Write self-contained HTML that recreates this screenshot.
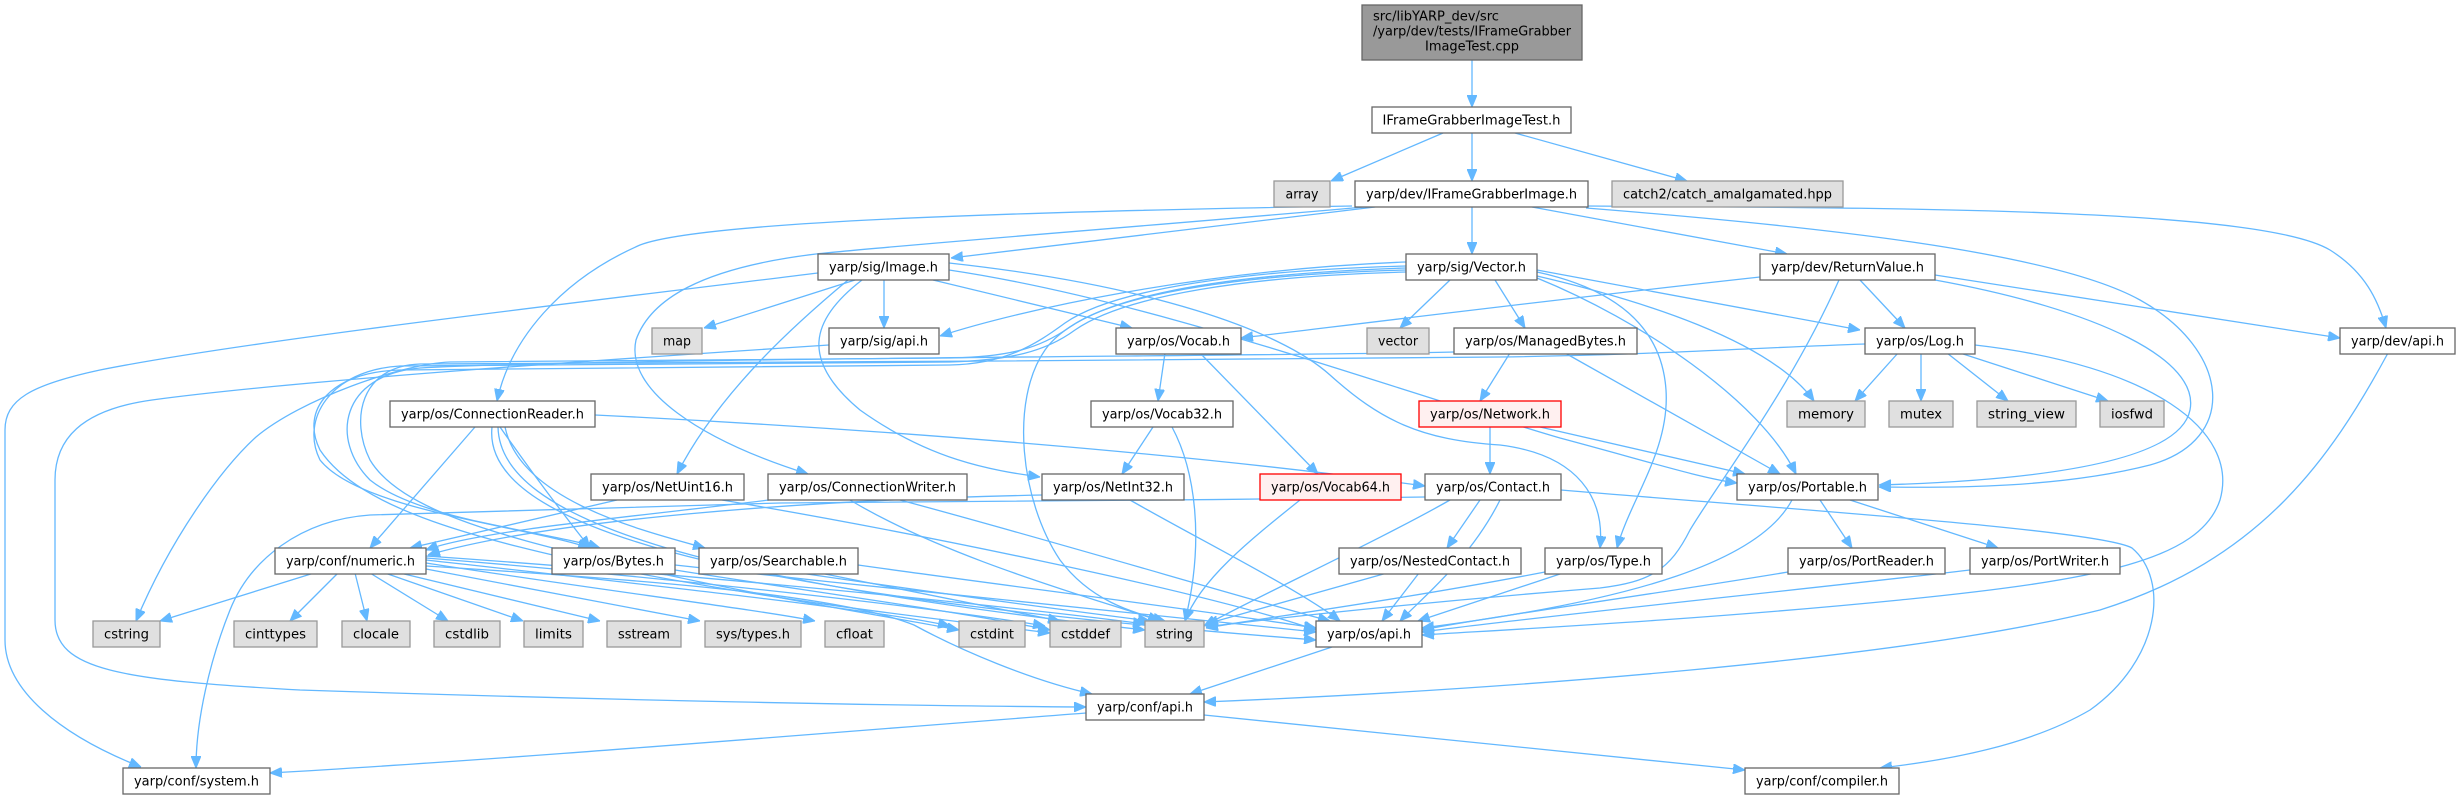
<!DOCTYPE html>
<html><head><meta charset="utf-8"><style>
html,body{margin:0;padding:0;background:#fff;}
svg{display:block;}
.e{fill:none;stroke:#63b8ff;stroke-width:1.3;marker-end:url(#a);}
.n rect{fill:#fff;stroke:#666;stroke-width:1.3;}
.g rect{fill:#e0e0e0;stroke:#999;stroke-width:1.3;}
.r rect{fill:#fff0f0;stroke:#ff0000;stroke-width:1.3;}
.t rect{fill:#999;stroke:#666;stroke-width:1.3;}
text{font-family:"DejaVu Sans","Liberation Sans",sans-serif;font-size:13px;fill:#000;}
</style></head><body>
<svg width="2460" height="799" viewBox="0 0 2460 799" xmlns="http://www.w3.org/2000/svg">
<defs><marker id="a" markerWidth="12" markerHeight="10" refX="12" refY="5" orient="auto" markerUnits="userSpaceOnUse"><path d="M0,0 L12,5 L0,10 z" fill="#63b8ff" stroke="#63b8ff" stroke-width="1"/></marker></defs>
<rect width="2460" height="799" fill="#fff"/>
<g>
<path class="e" d="M1472,60 L1472,107"/>
<path class="e" d="M1443,133 L1331,181"/>
<path class="e" d="M1472,133 L1472,181"/>
<path class="e" d="M1515,133 L1687,181"/>
<path class="e" d="M1375,207 L951,258"/>
<path class="e" d="M1352,206 C1000,212 700,222 640,245 C560,280 510,340 497,401"/>
<path class="e" d="M1365,207 C1100,230 900,245 816,254 C700,268 650,300 636,340 C625,390 700,440 808,474"/>
<path class="e" d="M1472,207 L1472,254"/>
<path class="e" d="M1532,207 L1787,254"/>
<path class="e" d="M1588,206 C1900,208 2260,208 2330,250 C2365,272 2378,300 2386,328"/>
<path class="e" d="M1586,208 C1800,225 2050,250 2140,300 C2230,350 2240,440 2150,465 C2060,488 1950,488 1879,487"/>
<path class="e" d="M1935,280 C2100,310 2200,360 2190,410 C2180,460 2050,480 1879,485"/>
<path class="e" d="M855,280 L704,328"/>
<path class="e" d="M884,280 L884,328"/>
<path class="e" d="M933,280 L1132,328"/>
<path class="e" d="M818,273 C600,300 250,340 100,370 C30,385 5,400 5,430 L5,640 C5,690 60,735 141,767"/>
<path class="e" d="M848,280 C800,320 720,390 677,474"/>
<path class="e" d="M862,280 C810,320 800,360 860,410 C930,460 990,470 1040,477"/>
<path class="e" d="M949,263 C1150,285 1280,330 1330,375 C1380,420 1420,440 1500,445 C1580,455 1605,500 1600,548"/>
<path class="e" d="M949,270 C1150,300 1380,385 1560,438 C1650,462 1700,478 1737,483"/>
<path class="e" d="M1450,280 L1400,328"/>
<path class="e" d="M1495,280 L1525,328"/>
<path class="e" d="M1406,262 C1200,270 1020,310 940,336"/>
<path class="e" d="M1537,270 L1860,330"/>
<path class="e" d="M1537,276 C1640,300 1770,340 1814,401"/>
<path class="e" d="M1537,278 C1640,320 1760,400 1796,474"/>
<path class="e" d="M1537,272 C1620,290 1662,330 1666,390 C1670,450 1630,500 1617,548"/>
<path class="e" d="M1406,268 C1200,275 1080,300 1045,350 C1010,400 1020,500 1060,560 C1090,600 1130,612 1165,621"/>
<path class="e" d="M1406,270 C1250,274 1120,292 1070,327 C1040,348 1010,357 950,358 L450,362 C400,364 300,400 256,437 C220,470 170,540 136,621"/>
<path class="e" d="M1406,272 C1250,276 1125,295 1075,330 C1045,352 1010,360 950,362 L400,366 C330,370 300,420 320,460 C360,510 520,525 590,548"/>
<path class="e" d="M1454,352 C1300,356 600,358 420,368 C340,375 330,440 370,480 C420,520 540,530 600,548"/>
<path class="e" d="M1865,344 C1750,348 1650,355 1500,357 L1000,361 L420,364 C360,366 350,420 370,460 C400,510 500,535 600,560 C750,595 880,615 959,630"/>
<path class="e" d="M1406,266 C1250,270 1115,288 1065,323 C1035,345 1005,364 950,365 L400,370 C330,372 300,410 320,450 C360,510 480,540 620,570 C800,605 950,620 1050,633"/>
<path class="e" d="M1165,353 L1158,401"/>
<path class="e" d="M1200,353 L1318,474"/>
<path class="e" d="M1153,427 L1122,474"/>
<path class="e" d="M1172,427 C1195,470 1205,540 1185,621"/>
<path class="e" d="M1300,500 C1250,540 1200,580 1185,621"/>
<path class="e" d="M1490,427 L1490,474"/>
<path class="e" d="M1540,427 L1745,474"/>
<path class="e" d="M1510,353 L1480,401"/>
<path class="e" d="M1565,353 L1780,474"/>
<path class="e" d="M1480,500 L1447,548"/>
<path class="e" d="M1450,500 C1380,540 1250,600 1204,626"/>
<path class="e" d="M1500,500 C1470,560 1420,600 1400,621"/>
<path class="e" d="M1425,497 C1200,500 900,503 780,503 L370,515 C300,520 250,560 230,610 C210,660 196,720 196,768"/>
<path class="e" d="M1561,490 C1800,510 2100,530 2132,548 C2170,580 2160,660 2090,710 C2030,745 1950,760 1880,768"/>
<path class="e" d="M475,427 L370,548"/>
<path class="e" d="M595,415 C900,430 1200,455 1425,486"/>
<path class="e" d="M500,427 C530,470 560,510 590,548"/>
<path class="e" d="M505,427 C520,500 640,530 705,548"/>
<path class="e" d="M498,427 C500,520 700,580 1145,630"/>
<path class="e" d="M492,427 C480,540 800,600 1316,640"/>
<path class="e" d="M617,500 L410,548"/>
<path class="e" d="M722,500 C900,530 1200,590 1316,630"/>
<path class="e" d="M769,500 C650,515 480,530 426,550"/>
<path class="e" d="M850,500 C950,560 1100,600 1160,621"/>
<path class="e" d="M900,500 C1050,540 1250,600 1330,621"/>
<path class="e" d="M1042,495 C800,500 550,520 428,555"/>
<path class="e" d="M1130,500 C1200,540 1300,590 1340,621"/>
<path class="e" d="M675,570 C800,590 950,610 1050,630"/>
<path class="e" d="M675,565 C900,590 1150,615 1316,632"/>
<path class="e" d="M800,573 C950,595 1080,612 1150,621"/>
<path class="e" d="M858,565 C1000,585 1200,610 1316,628"/>
<path class="e" d="M820,573 L1060,621"/>
<path class="e" d="M1387,573 L1206,624"/>
<path class="e" d="M1419,573 L1382,621"/>
<path class="e" d="M1545,572 C1400,600 1250,620 1206,628"/>
<path class="e" d="M1563,573 L1418,621"/>
<path class="e" d="M1820,500 L1852,548"/>
<path class="e" d="M1850,500 L1998,548"/>
<path class="e" d="M1792,500 C1760,560 1640,600 1422,628"/>
<path class="e" d="M1788,572 C1650,595 1500,615 1422,630"/>
<path class="e" d="M1970,570 C1800,590 1550,615 1422,632"/>
<path class="e" d="M1975,345 C2150,365 2240,430 2220,500 C2200,560 2100,580 1900,600 C1700,620 1500,630 1422,635"/>
<path class="e" d="M1839,280 C1790,390 1720,480 1690,530 C1670,570 1650,582 1600,588 C1450,600 1300,615 1206,627"/>
<path class="e" d="M1860,280 L1905,328"/>
<path class="e" d="M1935,275 L2340,338"/>
<path class="e" d="M1760,277 C1550,300 1350,325 1241,338"/>
<path class="e" d="M1898,353 L1855,401"/>
<path class="e" d="M1921,353 L1921,401"/>
<path class="e" d="M1947,353 L2008,401"/>
<path class="e" d="M1960,353 L2108,401"/>
<path class="e" d="M2388,353 C2330,460 2260,560 2100,610 C1900,660 1500,690 1204,702"/>
<path class="e" d="M1332,647 L1190,694"/>
<path class="e" d="M1086,713 C800,735 500,760 270,773"/>
<path class="e" d="M1204,715 L1745,770"/>
<path class="e" d="M829,345 C600,360 300,380 152,400 C80,410 55,440 55,480 L55,620 C55,670 120,680 300,690 C600,700 900,706 1086,707"/>
<path class="e" d="M426,566 C650,580 840,595 914,625 C960,650 1030,680 1092,694"/>
<path class="e" d="M314,573 L160,621"/>
<path class="e" d="M338,573 L290,621"/>
<path class="e" d="M355,573 L367,621"/>
<path class="e" d="M370,573 L448,621"/>
<path class="e" d="M385,573 L523,621"/>
<path class="e" d="M400,573 L600,621"/>
<path class="e" d="M426,569 L700,621"/>
<path class="e" d="M426,563 C600,590 760,610 815,621"/>
<path class="e" d="M426,560 C650,585 880,610 950,626"/>
<path class="e" d="M426,558 C700,580 950,610 1045,626"/>
<path class="e" d="M426,556 C700,575 1000,605 1145,624"/>
</g>
<g class="t"><rect x="1362" y="5" width="220" height="55"/>
<text x="1373" y="20.5" textLength="126" lengthAdjust="spacingAndGlyphs">src/libYARP_dev/src</text>
<text x="1373" y="35.5" textLength="198" lengthAdjust="spacingAndGlyphs">/yarp/dev/tests/IFrameGrabber</text>
<text x="1472" y="50.5" text-anchor="middle" textLength="94" lengthAdjust="spacingAndGlyphs">ImageTest.cpp</text></g>
<g class="n"><rect x="1372" y="107" width="199" height="26"/><text x="1471.5" y="124.5" text-anchor="middle" textLength="178" lengthAdjust="spacingAndGlyphs">IFrameGrabberImageTest.h</text></g>
<g class="g"><rect x="1274" y="181" width="56" height="26"/><text x="1302" y="198.5" text-anchor="middle" textLength="33" lengthAdjust="spacingAndGlyphs">array</text></g>
<g class="n"><rect x="1355" y="181" width="233" height="26"/><text x="1471.5" y="198.5" text-anchor="middle" textLength="211" lengthAdjust="spacingAndGlyphs">yarp/dev/IFrameGrabberImage.h</text></g>
<g class="g"><rect x="1612" y="181" width="231" height="26"/><text x="1727.5" y="198.5" text-anchor="middle" textLength="209" lengthAdjust="spacingAndGlyphs">catch2/catch_amalgamated.hpp</text></g>
<g class="n"><rect x="818" y="254" width="131" height="26"/><text x="883.5" y="271.5" text-anchor="middle" textLength="109" lengthAdjust="spacingAndGlyphs">yarp/sig/Image.h</text></g>
<g class="n"><rect x="1406" y="254" width="131" height="26"/><text x="1471.5" y="271.5" text-anchor="middle" textLength="109" lengthAdjust="spacingAndGlyphs">yarp/sig/Vector.h</text></g>
<g class="n"><rect x="1760" y="254" width="175" height="26"/><text x="1847.5" y="271.5" text-anchor="middle" textLength="153" lengthAdjust="spacingAndGlyphs">yarp/dev/ReturnValue.h</text></g>
<g class="g"><rect x="652" y="328" width="50" height="26"/><text x="677" y="345.5" text-anchor="middle" textLength="28" lengthAdjust="spacingAndGlyphs">map</text></g>
<g class="n"><rect x="829" y="328" width="110" height="26"/><text x="884" y="345.5" text-anchor="middle" textLength="88" lengthAdjust="spacingAndGlyphs">yarp/sig/api.h</text></g>
<g class="n"><rect x="1116" y="328" width="125" height="26"/><text x="1178.5" y="345.5" text-anchor="middle" textLength="103" lengthAdjust="spacingAndGlyphs">yarp/os/Vocab.h</text></g>
<g class="g"><rect x="1367" y="328" width="62" height="26"/><text x="1398" y="345.5" text-anchor="middle" textLength="40" lengthAdjust="spacingAndGlyphs">vector</text></g>
<g class="n"><rect x="1454" y="328" width="183" height="26"/><text x="1545.5" y="345.5" text-anchor="middle" textLength="161" lengthAdjust="spacingAndGlyphs">yarp/os/ManagedBytes.h</text></g>
<g class="n"><rect x="1865" y="328" width="110" height="26"/><text x="1920" y="345.5" text-anchor="middle" textLength="88" lengthAdjust="spacingAndGlyphs">yarp/os/Log.h</text></g>
<g class="n"><rect x="2340" y="328" width="115" height="26"/><text x="2397.5" y="345.5" text-anchor="middle" textLength="93" lengthAdjust="spacingAndGlyphs">yarp/dev/api.h</text></g>
<g class="n"><rect x="390" y="401" width="205" height="26"/><text x="492.5" y="418.5" text-anchor="middle" textLength="183" lengthAdjust="spacingAndGlyphs">yarp/os/ConnectionReader.h</text></g>
<g class="n"><rect x="1091" y="401" width="142" height="26"/><text x="1162" y="418.5" text-anchor="middle" textLength="120" lengthAdjust="spacingAndGlyphs">yarp/os/Vocab32.h</text></g>
<g class="r"><rect x="1419" y="401" width="142" height="26"/><text x="1490" y="418.5" text-anchor="middle" textLength="120" lengthAdjust="spacingAndGlyphs">yarp/os/Network.h</text></g>
<g class="g"><rect x="1787" y="401" width="78" height="26"/><text x="1826" y="418.5" text-anchor="middle" textLength="56" lengthAdjust="spacingAndGlyphs">memory</text></g>
<g class="g"><rect x="1889" y="401" width="64" height="26"/><text x="1921" y="418.5" text-anchor="middle" textLength="42" lengthAdjust="spacingAndGlyphs">mutex</text></g>
<g class="g"><rect x="1977" y="401" width="99" height="26"/><text x="2026.5" y="418.5" text-anchor="middle" textLength="77" lengthAdjust="spacingAndGlyphs">string_view</text></g>
<g class="g"><rect x="2100" y="401" width="64" height="26"/><text x="2132" y="418.5" text-anchor="middle" textLength="42" lengthAdjust="spacingAndGlyphs">iosfwd</text></g>
<g class="n"><rect x="591" y="474" width="153" height="26"/><text x="667.5" y="491.5" text-anchor="middle" textLength="131" lengthAdjust="spacingAndGlyphs">yarp/os/NetUint16.h</text></g>
<g class="n"><rect x="768" y="474" width="199" height="26"/><text x="867.5" y="491.5" text-anchor="middle" textLength="177" lengthAdjust="spacingAndGlyphs">yarp/os/ConnectionWriter.h</text></g>
<g class="n"><rect x="1042" y="474" width="142" height="26"/><text x="1113" y="491.5" text-anchor="middle" textLength="120" lengthAdjust="spacingAndGlyphs">yarp/os/NetInt32.h</text></g>
<g class="r"><rect x="1260" y="474" width="141" height="26"/><text x="1330.5" y="491.5" text-anchor="middle" textLength="119" lengthAdjust="spacingAndGlyphs">yarp/os/Vocab64.h</text></g>
<g class="n"><rect x="1425" y="474" width="136" height="26"/><text x="1493" y="491.5" text-anchor="middle" textLength="114" lengthAdjust="spacingAndGlyphs">yarp/os/Contact.h</text></g>
<g class="n"><rect x="1737" y="474" width="141" height="26"/><text x="1807.5" y="491.5" text-anchor="middle" textLength="119" lengthAdjust="spacingAndGlyphs">yarp/os/Portable.h</text></g>
<g class="n"><rect x="275" y="548" width="151" height="26"/><text x="350.5" y="565.5" text-anchor="middle" textLength="129" lengthAdjust="spacingAndGlyphs">yarp/conf/numeric.h</text></g>
<g class="n"><rect x="552" y="548" width="123" height="26"/><text x="613.5" y="565.5" text-anchor="middle" textLength="101" lengthAdjust="spacingAndGlyphs">yarp/os/Bytes.h</text></g>
<g class="n"><rect x="699" y="548" width="159" height="26"/><text x="778.5" y="565.5" text-anchor="middle" textLength="137" lengthAdjust="spacingAndGlyphs">yarp/os/Searchable.h</text></g>
<g class="n"><rect x="1339" y="548" width="182" height="26"/><text x="1430" y="565.5" text-anchor="middle" textLength="160" lengthAdjust="spacingAndGlyphs">yarp/os/NestedContact.h</text></g>
<g class="n"><rect x="1545" y="548" width="117" height="26"/><text x="1603.5" y="565.5" text-anchor="middle" textLength="95" lengthAdjust="spacingAndGlyphs">yarp/os/Type.h</text></g>
<g class="n"><rect x="1788" y="548" width="157" height="26"/><text x="1866.5" y="565.5" text-anchor="middle" textLength="135" lengthAdjust="spacingAndGlyphs">yarp/os/PortReader.h</text></g>
<g class="n"><rect x="1970" y="548" width="150" height="26"/><text x="2045" y="565.5" text-anchor="middle" textLength="128" lengthAdjust="spacingAndGlyphs">yarp/os/PortWriter.h</text></g>
<g class="g"><rect x="93" y="621" width="67" height="26"/><text x="126.5" y="638.5" text-anchor="middle" textLength="45" lengthAdjust="spacingAndGlyphs">cstring</text></g>
<g class="g"><rect x="234" y="621" width="83" height="26"/><text x="275.5" y="638.5" text-anchor="middle" textLength="61" lengthAdjust="spacingAndGlyphs">cinttypes</text></g>
<g class="g"><rect x="342" y="621" width="68" height="26"/><text x="376" y="638.5" text-anchor="middle" textLength="46" lengthAdjust="spacingAndGlyphs">clocale</text></g>
<g class="g"><rect x="434" y="621" width="66" height="26"/><text x="467" y="638.5" text-anchor="middle" textLength="44" lengthAdjust="spacingAndGlyphs">cstdlib</text></g>
<g class="g"><rect x="524" y="621" width="59" height="26"/><text x="553.5" y="638.5" text-anchor="middle" textLength="37" lengthAdjust="spacingAndGlyphs">limits</text></g>
<g class="g"><rect x="607" y="621" width="74" height="26"/><text x="644" y="638.5" text-anchor="middle" textLength="52" lengthAdjust="spacingAndGlyphs">sstream</text></g>
<g class="g"><rect x="705" y="621" width="96" height="26"/><text x="753" y="638.5" text-anchor="middle" textLength="74" lengthAdjust="spacingAndGlyphs">sys/types.h</text></g>
<g class="g"><rect x="825" y="621" width="59" height="26"/><text x="854.5" y="638.5" text-anchor="middle" textLength="37" lengthAdjust="spacingAndGlyphs">cfloat</text></g>
<g class="g"><rect x="959" y="621" width="66" height="26"/><text x="992" y="638.5" text-anchor="middle" textLength="44" lengthAdjust="spacingAndGlyphs">cstdint</text></g>
<g class="g"><rect x="1050" y="621" width="71" height="26"/><text x="1085.5" y="638.5" text-anchor="middle" textLength="49" lengthAdjust="spacingAndGlyphs">cstddef</text></g>
<g class="g"><rect x="1145" y="621" width="59" height="26"/><text x="1174.5" y="638.5" text-anchor="middle" textLength="37" lengthAdjust="spacingAndGlyphs">string</text></g>
<g class="n"><rect x="1316" y="621" width="106" height="26"/><text x="1369" y="638.5" text-anchor="middle" textLength="84" lengthAdjust="spacingAndGlyphs">yarp/os/api.h</text></g>
<g class="n"><rect x="1086" y="694" width="118" height="26"/><text x="1145" y="711.5" text-anchor="middle" textLength="96" lengthAdjust="spacingAndGlyphs">yarp/conf/api.h</text></g>
<g class="n"><rect x="123" y="768" width="147" height="26"/><text x="196.5" y="785.5" text-anchor="middle" textLength="125" lengthAdjust="spacingAndGlyphs">yarp/conf/system.h</text></g>
<g class="n"><rect x="1745" y="768" width="154" height="26"/><text x="1822" y="785.5" text-anchor="middle" textLength="132" lengthAdjust="spacingAndGlyphs">yarp/conf/compiler.h</text></g>
</svg>
</body></html>
